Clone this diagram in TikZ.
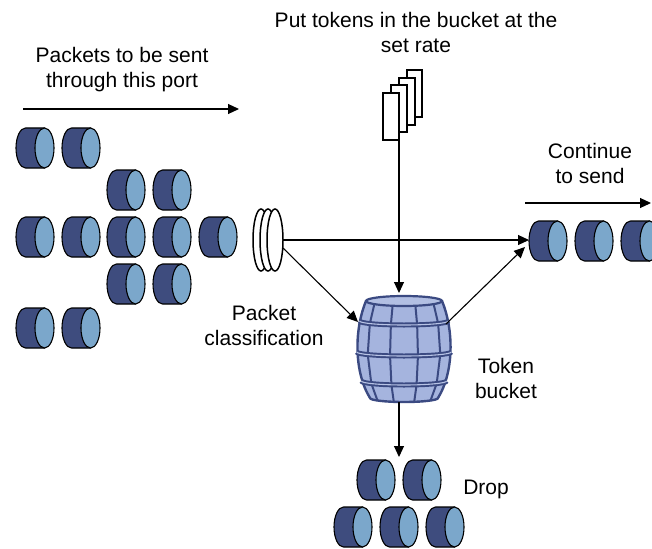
\documentclass[tikz,border=0pt]{standalone}
\usepackage{fontspec}
\setmainfont{Liberation Sans}
\usetikzlibrary{arrows.meta}

\definecolor{pktdark}{RGB}{62,76,126}
\definecolor{pktlight}{RGB}{123,167,203}
\definecolor{barrelfill}{RGB}{165,180,222}
\definecolor{barrelline}{RGB}{59,74,130}

\tikzset{
  % one packet: a short cylinder lying on its side
  pkt/.pic={
    \path[draw=black, line width=1.1pt, fill=pktdark]
      (-9.5,-20) -- (9.5,-20) -- (9.5,20) -- (-9.5,20)
      arc[start angle=90, end angle=270, x radius=9.5, y radius=20] -- cycle;
    \path[draw=black, line width=1.1pt, fill=pktlight]
      (9.5,0) ellipse[x radius=9.5, y radius=20];
  },
  flow/.style={line width=1.1pt, -{Triangle[length=11pt,width=10pt]}},
  lbl/.style={align=center, font=\fontsize{21}{25}\selectfont, inner sep=0pt},
  token/.style={draw=black, line width=1.3pt, fill=white},
  disc/.style={draw=black, line width=1.5pt, fill=white},
  stave/.style={draw=barrelline, line width=2pt},
  hoopdark/.style={draw=barrelline, line width=5pt},
  hooplight/.style={draw=barrelfill!80!white, line width=1.1pt},
}

\begin{document}
\begin{tikzpicture}[x=1pt, y=-1pt]
  \useasboundingbox (0,0) rectangle (652,548);
  \clip (0,0) rectangle (652,548);

  % ---- labels ----
  \node[lbl] (lblin)   at (122,70)  {Packets to be sent\\through this port};
  \node[lbl] (lbltok)  at (416,32)  {Put tokens in the bucket at the\\set rate};
  \node[lbl] (lblcont) at (590,163) {Continue\\to send};
  \node[lbl] (lblcls)  at (264,325) {Packet\\classification};
  \node[lbl] (lblbkt)  at (506,378) {Token\\bucket};
  \node[lbl] (lbldrop) at (486,489) {Drop};

  % ---- direction arrows ----
  \coordinate (inA) at (23,109);   \coordinate (inB) at (239,109);
  \draw[flow] (inA) -- (inB);
  \coordinate (contA) at (525,203); \coordinate (contB) at (651,203);
  \draw[flow] (contA) -- (contB);

  % ---- incoming packets ----
  \foreach \x/\y [count=\i] in {35/148, 81/148,
                                126/190, 172/190,
                                35/237, 81/237, 126/237, 172/237, 218/237,
                                126/284, 172/284,
                                35/328, 81/328}
    \pic (in\i) at (\x,\y) {pkt};

  % ---- classifier discs ----
  \path[disc] (261,240) ellipse[x radius=8, y radius=31];
  \path[disc] (268,240) ellipse[x radius=8, y radius=31];
  \path[disc] (275,240) ellipse[x radius=8, y radius=31];
  \coordinate (coilE)  at (283,240);
  \coordinate (coilSE) at (283,248);

  % ---- tokens ----
  \path[token] (407,70) rectangle (422,117);
  \path[token] (399,78) rectangle (415,125);
  \path[token] (391,85) rectangle (407,132);
  \path[token] (383,93) rectangle (399,140);
  \coordinate (tokB) at (399,140);

  % ---- token bucket (barrel) ----
  \path[fill=barrelfill, draw=barrelline, line width=2.4pt, line join=round]
    (366,301) .. controls (354,330) and (354,372) .. (370,398)
    arc[start angle=180, end angle=0, x radius=34, y radius=4]
    .. controls (454,372) and (454,330) .. (442,301) -- cycle;
  \foreach \f in {-0.78,-0.3,0.3,0.78} {
    \draw[stave] ({404+\f*38},{301+5*sqrt(1-\f*\f)}) -- ({404+\f*43.8},{321+4*sqrt(1-\f*\f)});
    \draw[stave] ({404+\f*43.8},{321+4*sqrt(1-\f*\f)}) -- ({404+\f*46.5},{352+4*sqrt(1-\f*\f)});
    \draw[stave] ({404+\f*46.5},{352+4*sqrt(1-\f*\f)}) -- ({404+\f*41.9},{381+4*sqrt(1-\f*\f)});
    \draw[stave] ({404+\f*41.9},{381+4*sqrt(1-\f*\f)}) -- ({404+\f*34},{398+4*sqrt(1-\f*\f)});
  }
  \foreach \yy/\hw in {321/44.5, 352/47.3, 381/42.7} {
    \draw[hoopdark]  ({404-\hw},\yy) arc[start angle=180, end angle=0, x radius=\hw, y radius=4];
    \draw[hooplight] ({404-\hw},\yy) arc[start angle=180, end angle=0, x radius=\hw, y radius=4];
  }
  \path[fill=barrelfill!85!white, draw=barrelline, line width=2.2pt]
    (404,301) ellipse[x radius=38, y radius=5];
  \coordinate (bktT) at (399,293);
  \coordinate (bktL) at (358,322);
  \coordinate (bktR) at (446,324);
  \coordinate (bktB) at (399,402);

  % ---- outgoing packets ----
  \foreach \x [count=\i] in {548,594,640}
    \pic (out\i) at (\x,241) {pkt};
  \coordinate (outW)  at (529,240);
  \coordinate (outSW) at (525,247);

  % ---- dropped packets ----
  \foreach \x/\y [count=\i] in {376/480, 422/480, 353/527, 399/527, 445/527}
    \pic (drop\i) at (\x,\y) {pkt};
  \coordinate (dropT) at (399,457);

  % ---- connectors ----
  \draw[flow] (coilE) -- (outW);
  \draw[flow] (coilSE) -- (bktL);
  \draw[flow] (bktR) -- (outSW);
  \draw[flow] (tokB) -- (bktT);
  \draw[flow] (bktB) -- (dropT);
\end{tikzpicture}
\end{document}
